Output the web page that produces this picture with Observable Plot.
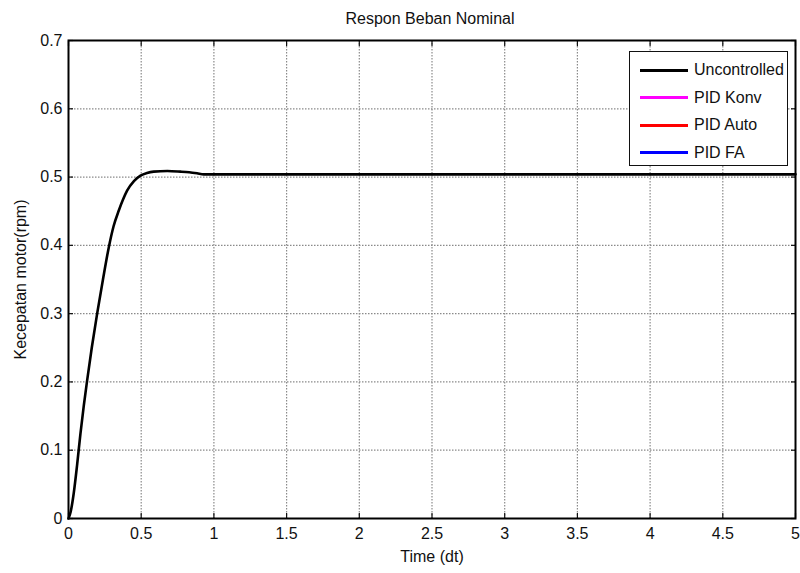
<!DOCTYPE html>
<html>
<head>
<meta charset="utf-8">
<script src="https://cdn.jsdelivr.net/npm/d3@7"></script>
<script src="https://cdn.jsdelivr.net/npm/@observablehq/plot@0.6"></script>
<style>
  html, body { margin: 0; padding: 0; background: #fff; }
  body { width: 800px; height: 573px; overflow: hidden; position: relative;
         font-family: "Liberation Sans Narrow", "Arial Narrow", "Liberation Sans", Arial, sans-serif; }
  #title { height: 30px; line-height: 37px; text-align: center; font-size: 16px; color: #111; padding-left: 60px; }
  #legend { position: absolute; left: 629px; top: 51px; width: 159px; height: 115px;
            border: 1.5px solid #111; background: #fff; box-sizing: border-box; }
  .row { position: absolute; left: 10px; height: 20px; display: flex; align-items: center; font-size: 16px; color: #111; }
  .row .sw { width: 48px; height: 0; border-top: 3px solid; margin-right: 6px; }
</style>
</head>
<body>
<div id="title">Respon Beban Nominal</div>
<div id="chart"></div>
<div id="legend"></div>
<script>
// Data
const time = [0, 0.015, 0.036, 0.06, 0.082, 0.105, 0.128, 0.16, 0.197, 0.237, 0.277, 0.31, 0.346, 0.375, 0.403, 0.45, 0.495, 0.54, 0.586, 0.68, 0.77, 0.83, 0.884, 0.93, 1.0, 2.0, 3.0, 4.0, 5.0];
const uncontrolled = [0, 0.01, 0.037, 0.08, 0.124, 0.165, 0.202, 0.25, 0.300, 0.350, 0.397, 0.428, 0.451, 0.467, 0.480, 0.494, 0.502, 0.506, 0.508, 0.509, 0.508, 0.507, 0.5055, 0.504, 0.504, 0.504, 0.504, 0.504, 0.504];

const seriesNames = ["Uncontrolled", "PID Konv", "PID Auto", "PID FA"];
const seriesColors = ["#000000", "#ff00ff", "#ff0000", "#0000ff"];

const xTicks = [0, 0.5, 1, 1.5, 2, 2.5, 3, 3.5, 4, 4.5, 5];
const yTicks = [0, 0.1, 0.2, 0.3, 0.4, 0.5, 0.6, 0.7];

const data = time.map((t, i) => ({t, v: uncontrolled[i]}));

const font = '"Liberation Sans Narrow", "Arial Narrow", "Liberation Sans", Arial, sans-serif';

const chart = Plot.plot({
  width: 800,
  height: 543,
  marginTop: 10,
  marginBottom: 55,
  marginLeft: 68,
  marginRight: 5,
  style: { fontFamily: font, fontSize: "16px", color: "#111", background: "#fff", overflow: "visible" },
  x: { domain: [0, 5] },
  y: { domain: [0, 0.7] },
  marks: [
    Plot.gridX(xTicks.slice(1, -1), { stroke: "#8a8a8a", strokeOpacity: 1, strokeDasharray: "1.5,1.5", strokeWidth: 1.2 }),
    Plot.gridY(yTicks.slice(1, -1), { stroke: "#8a8a8a", strokeOpacity: 1, strokeDasharray: "1.5,1.5", strokeWidth: 1.2 }),
    Plot.axisX(xTicks, { anchor: "bottom", tickSize: 0, tickPadding: 9, label: "Time (dt)", labelAnchor: "center", labelArrow: "none", labelOffset: 43, tickFormat: d => String(d) }),
    Plot.axisX(xTicks, { anchor: "bottom", tickSize: -5, text: null, label: null, strokeWidth: 1.2 }),
    Plot.axisX(xTicks, { anchor: "top", tickSize: -5, text: null, label: null, strokeWidth: 1.2 }),
    Plot.axisY(yTicks, { anchor: "left", tickSize: 0, tickPadding: 6, label: "Kecepatan motor(rpm)", labelAnchor: "center", labelArrow: "none", labelOffset: 54, tickFormat: d => String(d) }),
    Plot.axisY(yTicks, { anchor: "left", tickSize: -5, text: null, label: null, strokeWidth: 1.2 }),
    Plot.axisY(yTicks, { anchor: "right", tickSize: -5, text: null, label: null, strokeWidth: 1.2 }),
    Plot.frame({ stroke: "#000", strokeWidth: 2 }),
    Plot.line(data, { x: "t", y: "v", stroke: seriesColors[0], strokeWidth: 2.6, curve: "monotone-x" })
  ]
});
document.getElementById("chart").appendChild(chart);

const legend = document.getElementById("legend");
seriesNames.forEach((name, i) => {
  const row = document.createElement("div");
  row.className = "row";
  row.style.top = (8 + i * 27.5) + "px";
  const sw = document.createElement("span");
  sw.className = "sw";
  sw.style.borderTopColor = seriesColors[i];
  const tx = document.createElement("span");
  tx.textContent = name;
  row.appendChild(sw);
  row.appendChild(tx);
  legend.appendChild(row);
});
</script>
</body>
</html>
